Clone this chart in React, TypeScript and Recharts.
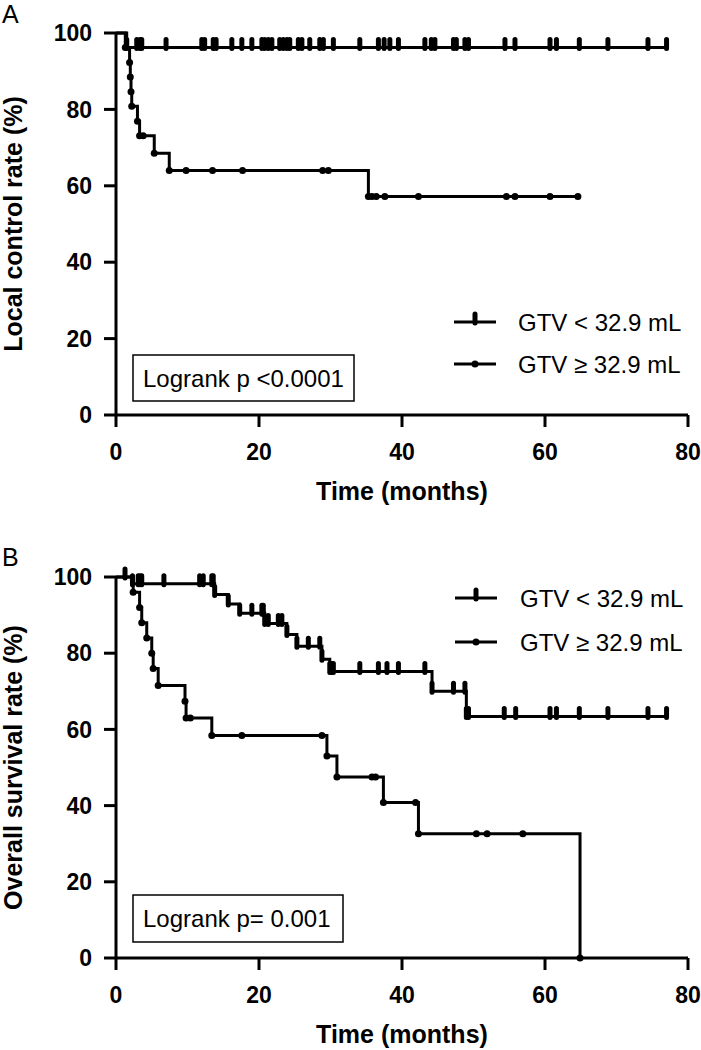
import React from 'react';
import { ComposedChart, Line, XAxis, YAxis, Label } from 'recharts';

const FONT = "Arial, 'Liberation Sans', sans-serif";

const timeTicks = [0, 20, 40, 60, 80];
const rateTicks = [0, 20, 40, 60, 80, 100];
const groupLabels = ['GTV < 32.9 mL', 'GTV \u2265 32.9 mL'];

// A: local control, GTV < 32.9 mL
const lcSmallEventTimes = [1.5];
const lcSmallEventRates = [96.2];
const lcSmallCensored = [
  2.9, 3.35, 3.6, 7.0, 12.0, 12.4, 13.6, 14.0, 16.2, 17.6, 19.0, 20.4, 20.8, 21.3, 21.8,
  22.9, 23.4, 23.9, 24.3, 25.5, 26.0, 27.1, 28.5, 29.0, 30.4, 34.1, 36.7, 37.5, 38.3, 39.5,
  43.2, 44.1, 44.6, 47.2, 47.6, 48.8, 49.3, 54.4, 55.8, 60.7, 61.6, 64.8, 68.8, 74.4, 77.0,
];

// A: local control, GTV >= 32.9 mL
const lcLargeEventTimes = [1.3, 1.9, 2.0, 2.1, 2.2, 3.0, 3.3, 5.35, 7.45, 35.3];
const lcLargeEventRates = [96.2, 92.3, 88.5, 84.6, 80.8, 76.9, 73.1, 68.5, 64.0, 57.2];
const lcLargeCensored = [3.8, 9.8, 13.5, 17.7, 28.9, 29.7, 35.8, 36.4, 37.6, 42.3, 54.6, 55.8, 60.7, 64.6];

// B: overall survival, GTV < 32.9 mL
const osSmallEventTimes = [2.3, 13.8, 15.7, 17.3, 20.8, 23.9, 25.3, 28.8, 29.9, 44.2, 49.0];
const osSmallEventRates = [98.2, 95.4, 92.9, 90.5, 87.8, 84.9, 81.8, 78.4, 75.2, 70.0, 63.4];
const osSmallCensored = [
  1.26, 3.1, 3.36, 3.6, 6.7, 11.7, 12.2, 13.4, 13.6, 19.0, 20.4, 20.6, 21.3, 22.7, 23.2,
  26.9, 28.5, 30.2, 30.4, 34.1, 36.7, 37.9, 39.5, 43.2, 47.2, 48.8, 49.3, 54.3, 55.9, 60.7,
  61.6, 64.8, 68.8, 74.4, 77.0,
];

// B: overall survival, GTV >= 32.9 mL
const osLargeEventTimes = [2.4, 3.3, 3.6, 4.3, 5.0, 5.2, 5.9, 9.65, 9.8, 13.4, 29.5, 30.9, 37.4, 42.3, 64.9];
const osLargeEventRates = [96, 92, 88, 84, 80, 76, 71.5, 67.4, 63.0, 58.4, 53.0, 47.5, 40.8, 32.6, 0];
const osLargeCensored = [10.4, 17.6, 28.8, 35.8, 36.3, 41.9, 50.4, 51.9, 56.9];

type Pt = { t: number; s: number; mark: boolean };

// step curve points: events + censored times (level looked up from the last event before it)
const buildCurve = (times: number[], rates: number[], censored: number[]): Pt[] => {
  const pts: Pt[] = [{ t: 0, s: 100, mark: false }];
  times.forEach((t, i) => pts.push({ t, s: rates[i], mark: true }));
  censored.forEach((t) => {
    let s = 100;
    times.forEach((et, i) => {
      if (et <= t) s = rates[i];
    });
    pts.push({ t, s, mark: true });
  });
  return pts.sort((a, b) => a.t - b.t);
};

const BarMark = (props: any) => {
  const { cx, cy, payload, index } = props;
  if (!payload || !payload.mark) return <g key={`b-${index}`} />;
  return <rect key={`b-${index}`} x={cx - 2.5} y={cy - 10.5} width={5} height={14} rx={2.5} fill="#000" />;
};

const DotMark = (props: any) => {
  const { cx, cy, payload, index } = props;
  if (!payload || !payload.mark) return <g key={`d-${index}`} />;
  return <circle key={`d-${index}`} cx={cx} cy={cy} r={3.5} fill="#000" />;
};

const axisStroke = { stroke: '#000', strokeWidth: 3 };
const tickStyle = { fill: '#000', fontSize: 23, fontWeight: 'bold', fontFamily: FONT };

const KmPanel: React.FC<{
  small: Pt[];
  large: Pt[];
  yTitle: string;
  marginTop: number;
  xAxisHeight: number;
}> = ({ small, large, yTitle, marginTop, xAxisHeight }) => (
  <ComposedChart width={701} height={525} margin={{ top: marginTop, right: 13, bottom: 0, left: 0 }}>
    <XAxis
      type="number"
      dataKey="t"
      domain={[0, 80]}
      ticks={timeTicks}
      allowDataOverflow
      height={xAxisHeight}
      axisLine={axisStroke}
      tickLine={axisStroke}
      tickSize={12}
      tickMargin={17}
      tick={tickStyle}
    >
      <Label
        content={({ viewBox }: any) => (
          <text
            x={viewBox.x + viewBox.width / 2}
            y={viewBox.y + 85}
            textAnchor="middle"
            fontSize={25}
            fontWeight="bold"
            fontFamily={FONT}
            fill="#000"
          >
            Time (months)
          </text>
        )}
      />
    </XAxis>
    <YAxis
      type="number"
      domain={[0, 100]}
      ticks={rateTicks}
      width={116}
      axisLine={axisStroke}
      tickLine={axisStroke}
      tickSize={12}
      tickMargin={12}
      tick={tickStyle}
    >
      <Label
        content={({ viewBox }: any) => {
          const cy = viewBox.y + viewBox.height / 2;
          return (
            <text
              x={22}
              y={cy}
              transform={`rotate(-90 22 ${cy})`}
              textAnchor="middle"
              fontSize={25}
              fontWeight="bold"
              fontFamily={FONT}
              fill="#000"
            >
              {yTitle}
            </text>
          );
        }}
      />
    </YAxis>
    <Line
      data={large}
      dataKey="s"
      type="stepAfter"
      stroke="#000"
      strokeWidth={3}
      dot={DotMark}
      activeDot={false}
      isAnimationActive={false}
    />
    <Line
      data={small}
      dataKey="s"
      type="stepAfter"
      stroke="#000"
      strokeWidth={3}
      dot={BarMark}
      activeDot={false}
      isAnimationActive={false}
    />
  </ComposedChart>
);

const LegendRows: React.FC<{ lineX: number; textX: number; rowY: number[] }> = ({ lineX, textX, rowY }) => (
  <g>
    {groupLabels.map((label, i) => (
      <g key={label}>
        <line x1={lineX} x2={lineX + 42} y1={rowY[i]} y2={rowY[i]} stroke="#000" strokeWidth={3} />
        {i === 0 ? (
          <rect x={lineX + 18.5} y={rowY[i] - 10.5} width={5} height={14} rx={2.5} fill="#000" />
        ) : (
          <circle cx={lineX + 21} cy={rowY[i]} r={3.5} fill="#000" />
        )}
        <text x={textX} y={rowY[i] + 9} fontSize={24} fontFamily={FONT} fill="#000">
          {label}
        </text>
      </g>
    ))}
  </g>
);

const LogrankBox: React.FC<{ x: number; y: number; w: number; h: number; text: string }> = ({ x, y, w, h, text }) => (
  <g>
    <rect x={x} y={y} width={w} height={h} fill="#fff" stroke="#000" strokeWidth={1.5} />
    <text x={x + 10} y={y + h / 2 + 8.5} fontSize={24} fontFamily={FONT} fill="#000">
      {text}
    </text>
  </g>
);

export default function App() {
  const lcSmall = buildCurve(lcSmallEventTimes, lcSmallEventRates, lcSmallCensored);
  const lcLarge = buildCurve(lcLargeEventTimes, lcLargeEventRates, lcLargeCensored);
  const osSmall = buildCurve(osSmallEventTimes, osSmallEventRates, osSmallCensored);
  const osLarge = buildCurve(osLargeEventTimes, osLargeEventRates, osLargeCensored);

  return (
    <div style={{ position: 'absolute', left: 0, top: 0, width: 701, height: 1050, background: '#fff' }}>
      <div style={{ position: 'absolute', left: 0, top: 0 }}>
        <KmPanel small={lcSmall} large={lcLarge} yTitle="Local control rate (%)" marginTop={33} xAxisHeight={110} />
      </div>
      <div style={{ position: 'absolute', left: 0, top: 525 }}>
        <KmPanel small={osSmall} large={osLarge} yTitle="Overall survival rate (%)" marginTop={52} xAxisHeight={92} />
      </div>
      <svg
        width={701}
        height={1050}
        style={{ position: 'absolute', left: 0, top: 0, pointerEvents: 'none' }}
      >
        <text x={2} y={23} fontSize={25} fontFamily={FONT} fill="#000">A</text>
        <text x={2} y={566} fontSize={25} fontFamily={FONT} fill="#000">B</text>
        <LegendRows lineX={454} textX={518} rowY={[322, 364]} />
        <LegendRows lineX={455} textX={520} rowY={[598, 642]} />
        <LogrankBox x={133} y={355} w={221} h={46} text="Logrank p <0.0001" />
        <LogrankBox x={133} y={895} w={210} h={47} text="Logrank p= 0.001" />
      </svg>
    </div>
  );
}
